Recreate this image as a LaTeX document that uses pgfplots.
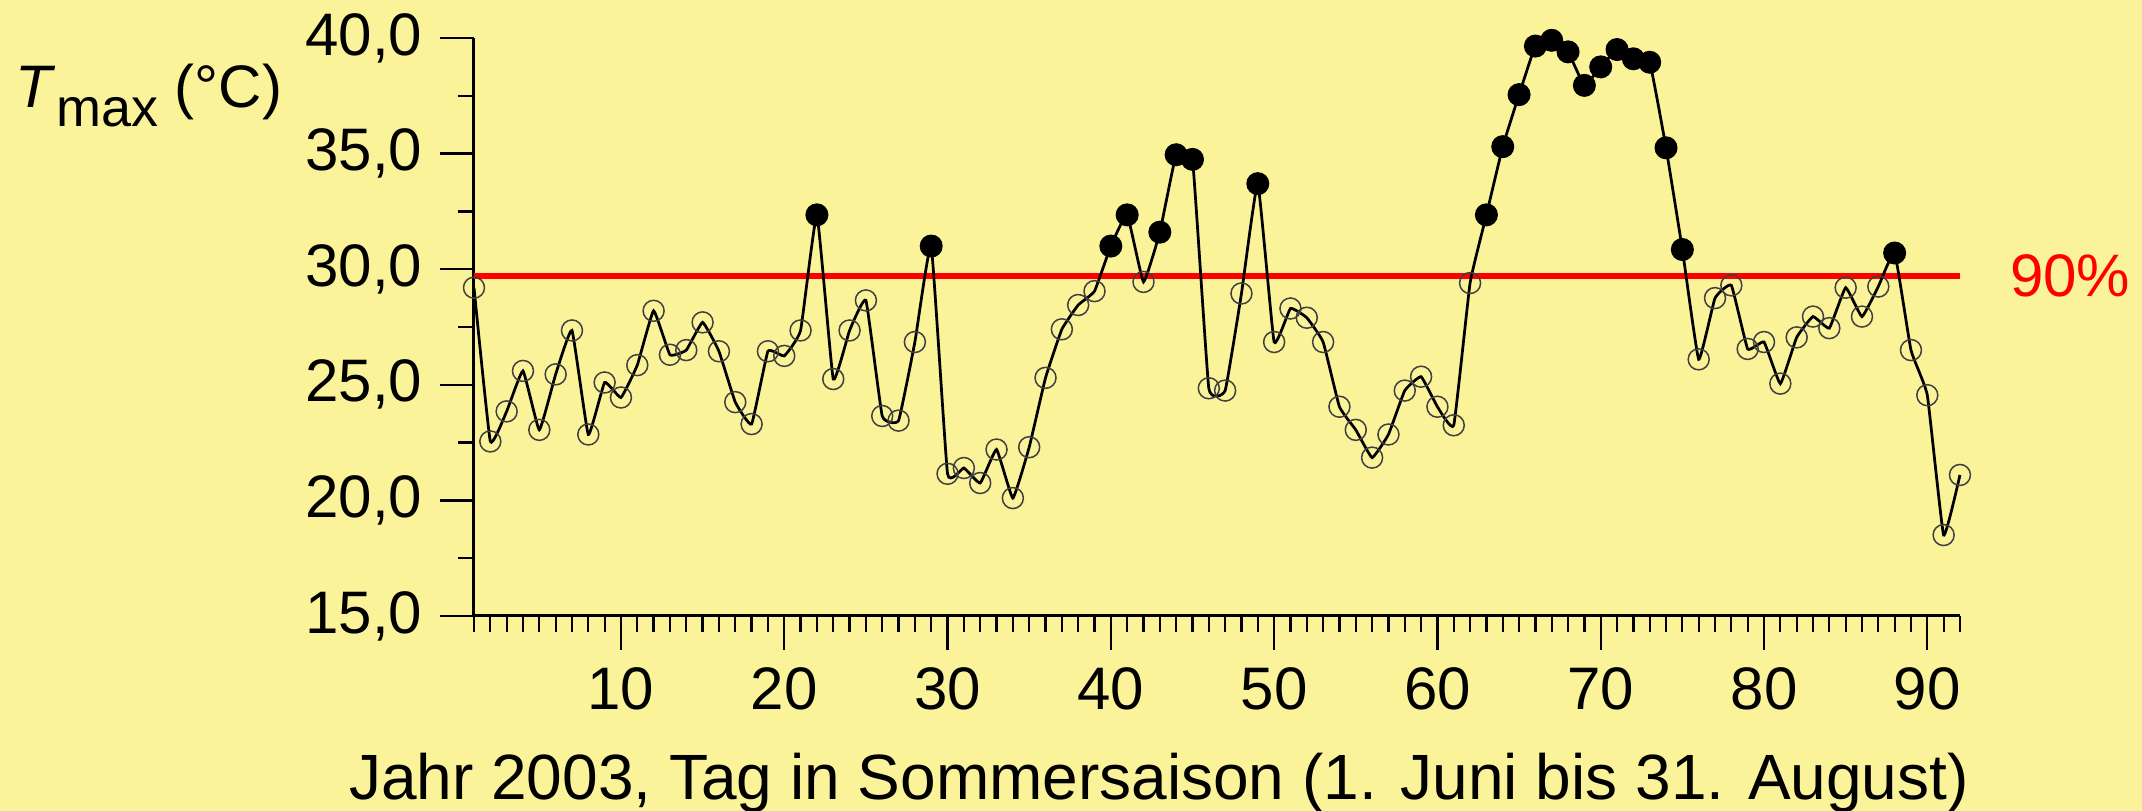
\documentclass[border=0pt]{standalone}
\usepackage{fontspec}
\setmainfont{Liberation Sans}
\usepackage{pgfplots}
\usepackage{pgfplotstable}
\pgfplotsset{compat=1.18}

\definecolor{bgyellow}{RGB}{251,243,153}

% Tmax per day, summer 2003
\pgfplotstableread{
day T
1 29.2
2 22.55
3 23.85
4 25.6
5 23.05
6 25.45
7 27.35
8 22.85
9 25.1
10 24.45
11 25.85
12 28.2
13 26.3
14 26.5
15 27.7
16 26.45
17 24.25
18 23.3
19 26.45
20 26.25
21 27.35
22 32.35
23 25.25
24 27.35
25 28.65
26 23.65
27 23.45
28 26.85
29 31.0
30 21.15
31 21.4
32 20.75
33 22.2
34 20.1
35 22.3
36 25.3
37 27.4
38 28.45
39 29.05
40 31.0
41 32.35
42 29.45
43 31.6
44 34.95
45 34.75
46 24.85
47 24.75
48 28.95
49 33.7
50 26.85
51 28.3
52 27.9
53 26.85
54 24.05
55 23.05
56 21.85
57 22.85
58 24.75
59 25.35
60 24.05
61 23.25
62 29.4
63 32.35
64 35.3
65 37.55
66 39.65
67 39.9
68 39.4
69 37.95
70 38.75
71 39.5
72 39.1
73 38.95
74 35.25
75 30.85
76 26.1
77 28.75
78 29.3
79 26.55
80 26.85
81 25.05
82 27.05
83 27.95
84 27.45
85 29.2
86 27.95
87 29.25
88 30.7
89 26.5
90 24.55
91 18.5
92 21.1
}\tmaxdata

\begin{document}
\begin{tikzpicture}[font=\fontsize{12}{14}\selectfont]
\useasboundingbox (-94.8pt,-39pt) rectangle (333.6pt,123.2pt);
\fill[bgyellow] (-94.8pt,-39pt) rectangle (333.6pt,123.2pt);

\begin{axis}[
  at={(0,0)}, anchor=south west,
  scale only axis,
  width=297.2pt, height=115.6pt,
  xmin=1, xmax=92,
  ymin=15, ymax=40,
  axis x line=bottom,
  axis y line=left,
  axis line style={-, line width=0.6pt},
  tick align=outside,
  major tick length=6.8pt,
  minor tick length=3.2pt,
  tick style={black, line width=0.45pt},
  xtick={10,20,...,90},
  minor xtick={1,...,92},
  ytick={15,20,...,40},
  minor ytick={17.5,22.5,27.5,32.5,37.5},
  ticklabel style={font=\fontsize{12}{14}\selectfont},
  /pgf/number format/assume math mode=true,
  yticklabel style={/pgf/number format/.cd, fixed, fixed zerofill, precision=1, use comma},
  xticklabel style={/pgf/number format/.cd, fixed, precision=0},
  clip=false,
]

% 90 % threshold
\addplot[red, line width=1.3pt] coordinates {(1,29.7) (92,29.7)};

\addplot[black, line width=0.55pt, smooth, tension=0.2] table[x=day, y=T] {\tmaxdata};

\addplot[only marks, mark=o, mark size=2.1pt, mark options={draw=black!75, line width=0.3pt},
  restrict y to domain=10:29.7, unbounded coords=discard] table[x=day, y=T] {\tmaxdata};

\addplot[only marks, mark=*, mark size=2.1pt, mark options={fill=black, draw=black},
  restrict y to domain=29.7:45, unbounded coords=discard] table[x=day, y=T] {\tmaxdata};

\node[red, anchor=west, font=\fontsize{12}{14}\selectfont] at (axis cs:92,29.7) [xshift=6.5pt] {90\%};
\end{axis}

\node[anchor=base west, inner sep=0pt] at (-91.8pt,101.6pt)
  {\textit{T}\raisebox{-3.8pt}{\fontsize{10.8}{12}\selectfont max} (°C)};
\node[anchor=base, inner sep=0pt, font=\fontsize{12.8}{15}\selectfont] at (137pt,-36.8pt)
  {Jahr 2003, Tag in Sommersaison (1. Juni bis 31. August)};
\end{tikzpicture}
\end{document}
